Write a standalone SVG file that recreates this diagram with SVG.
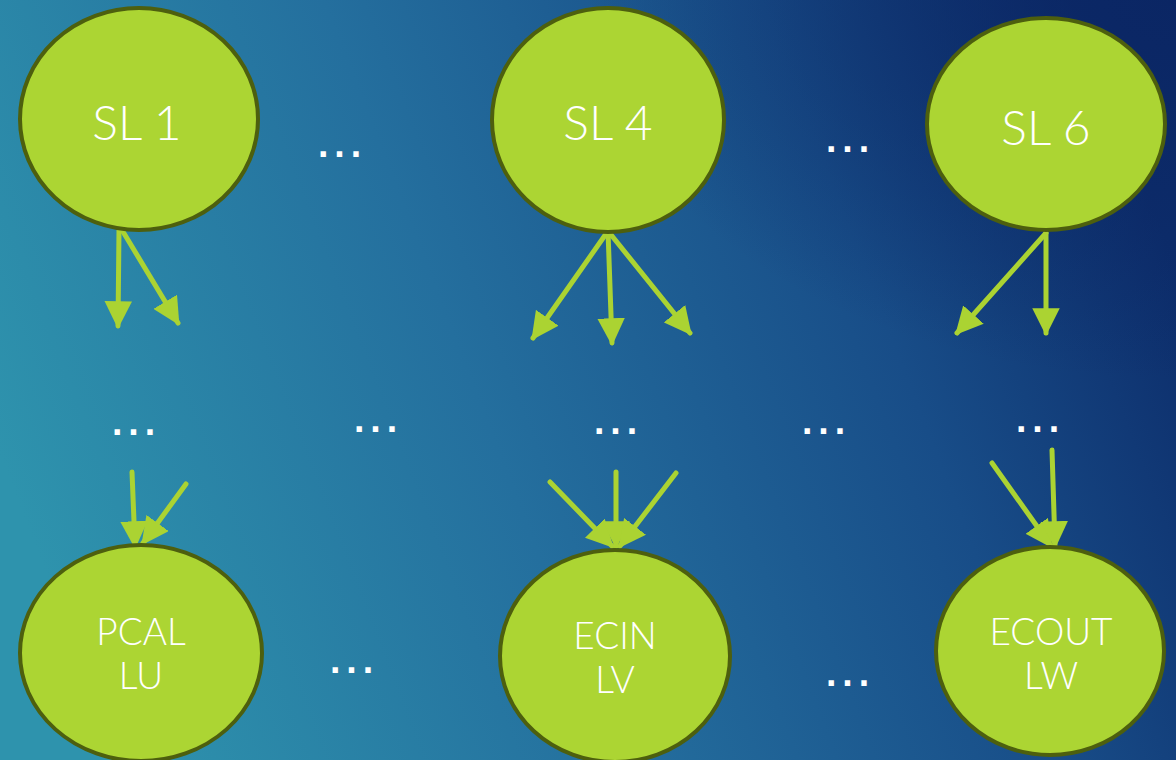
<svg xmlns="http://www.w3.org/2000/svg" width="1176" height="760" viewBox="0 0 1176 760">
  <defs>
    <linearGradient id="bg" x1="0" y1="0.6" x2="1" y2="0.35">
      <stop offset="0" stop-color="#2e93ad"/>
      <stop offset="0.4" stop-color="#246f9e"/>
      <stop offset="0.75" stop-color="#184d88"/>
      <stop offset="1" stop-color="#0d2e6c"/>
    </linearGradient>
    <radialGradient id="corner" cx="1" cy="0" r="0.5">
      <stop offset="0" stop-color="#0a2462" stop-opacity="0.8"/>
      <stop offset="1" stop-color="#0a2462" stop-opacity="0"/>
    </radialGradient>
    <marker id="head" viewBox="0 0 10 10" refX="9" refY="5" markerWidth="5.5" markerHeight="5.5" orient="auto" markerUnits="strokeWidth">
      <path d="M0,0 L10,5 L0,10 Z" fill="#abd332"/>
    </marker>
    <style>
      .node { fill: #acd533; stroke: #4d5f0e; stroke-width: 4; }
      .label { font-family: Lato, "Liberation Sans", sans-serif; font-weight: 300; fill: #ffffff; text-anchor: middle; }
      .big { font-size: 48px; }
      .small { font-size: 37px; }
      .dots { font-family: "DejaVu Sans", sans-serif; font-weight: bold; font-size: 30px; fill: #ffffff; letter-spacing: 5px; text-anchor: middle; }
      .edge { stroke: #abd332; stroke-width: 5; stroke-linecap: round; fill: none; marker-end: url(#head); }
    </style>
  </defs>

  <rect width="1176" height="760" fill="url(#bg)"/>
  <rect width="1176" height="760" fill="url(#corner)"/>

  <!-- ellipsis placeholders -->
  <g id="ellipses">
    <text class="dots" x="342" y="157">...</text>
    <text class="dots" x="850" y="152">...</text>
    <text class="dots" x="136" y="435">...</text>
    <text class="dots" x="378" y="432">...</text>
    <text class="dots" x="618" y="434">...</text>
    <text class="dots" x="826" y="434">...</text>
    <text class="dots" x="1040" y="432">...</text>
    <text class="dots" x="354" y="673">...</text>
    <text class="dots" x="850" y="686">...</text>
  </g>

  <!-- connectors -->
  <g id="connectors">
    <line class="edge" x1="119" y1="230" x2="118" y2="326"/>
    <line class="edge" x1="122" y1="230" x2="178" y2="323"/>
    <line class="edge" x1="608" y1="231" x2="533" y2="338"/>
    <line class="edge" x1="608" y1="231" x2="612" y2="343"/>
    <line class="edge" x1="608" y1="231" x2="690" y2="333"/>
    <line class="edge" x1="1046" y1="233" x2="957" y2="333"/>
    <line class="edge" x1="1046" y1="233" x2="1046" y2="333"/>
    <line class="edge" x1="132" y1="472" x2="135" y2="546"/>
    <line class="edge" x1="186" y1="484" x2="143" y2="543"/>
    <line class="edge" x1="550" y1="482" x2="612" y2="546"/>
    <line class="edge" x1="616" y1="472" x2="616" y2="546"/>
    <line class="edge" x1="676" y1="473" x2="620" y2="546"/>
    <line class="edge" x1="992" y1="463" x2="1051" y2="546"/>
    <line class="edge" x1="1052" y1="450" x2="1055" y2="546"/>
  </g>

  <g id="sl1">
    <ellipse class="node" cx="139" cy="119" rx="119" ry="111"/>
    <text class="label big" x="137" y="140">SL 1</text>
  </g>
  <g id="sl4">
    <ellipse class="node" cx="608" cy="120" rx="116" ry="112"/>
    <text class="label big" x="608" y="140">SL 4</text>
  </g>
  <g id="sl6">
    <ellipse class="node" cx="1046" cy="124" rx="119" ry="106"/>
    <text class="label big" x="1046" y="145">SL 6</text>
  </g>
  <g id="pcal">
    <ellipse class="node" cx="141" cy="653" rx="121" ry="108"/>
    <text class="label small" x="141" y="645">PCAL</text>
    <text class="label small" x="141" y="689">LU</text>
  </g>
  <g id="ecin">
    <ellipse class="node" cx="615" cy="656" rx="115" ry="106"/>
    <text class="label small" x="615" y="649">ECIN</text>
    <text class="label small" x="615" y="693">LV</text>
  </g>
  <g id="ecout">
    <ellipse class="node" cx="1050" cy="651" rx="114" ry="104"/>
    <text class="label small" x="1051" y="645">ECOUT</text>
    <text class="label small" x="1051" y="689">LW</text>
  </g>
</svg>
